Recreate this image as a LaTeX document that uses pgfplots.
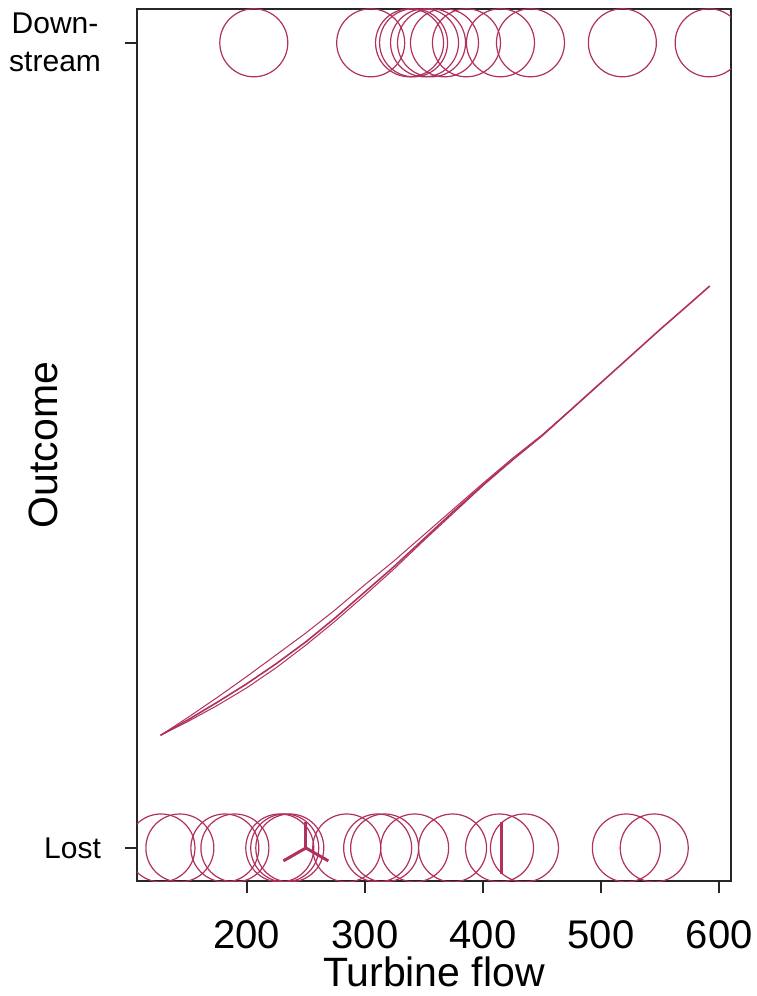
\documentclass[border=0pt]{standalone}
\usepackage{pgfplots}
\pgfplotsset{compat=1.18}
\usepackage{fontspec}
\setmainfont{Liberation Sans}
\definecolor{maroonR}{HTML}{B03060}
\begin{document}
\begin{tikzpicture}
\begin{axis}[
  scale only axis, width=297pt, height=436pt,
  xmin=107, xmax=610, ymin=-0.041, ymax=1.042,
  xtick={200,300,400,500,600},
  ytick={0,1}, yticklabels={Lost,{Down-\\stream}},
  tick pos=left, tick align=outside, major tick length=6pt,
  axis line style={line width=0.75pt, black!85},
  every tick/.style={black!85, line width=0.75pt},
  /pgf/number format/assume math mode=true,
  xticklabel style={font=\fontsize{20}{24}\selectfont, inner sep=0pt, yshift=-13.5pt},
  yticklabel style={font=\fontsize{15}{19}\selectfont, align=center, xshift=-8.5pt},
  xlabel={Turbine flow}, ylabel={Outcome},
  every axis x label/.style={at={(rel axis cs:0.5,0)}, yshift=-45.5pt, anchor=center, inner sep=0pt, font=\fontsize{20.5}{24}\selectfont},
  every axis y label/.style={at={(rel axis cs:0,0.5)}, xshift=-47pt, anchor=center, rotate=90, font=\fontsize{20.5}{24}\selectfont},
  clip marker paths=true,
]
\coordinate (SW) at (rel axis cs:0,0);
\coordinate (NE) at (rel axis cs:1,1);
% Downstream observations
\addplot[only marks, mark=o, mark size=17pt, mark options={draw=maroonR, line width=0.6pt}] coordinates {
(205.9,1)(304.9,1)(337.8,1)(341.2,1)(350.5,1)(356.4,1)(367.4,1)(386.0,1)(414.8,1)(440.2,1)(518.0,1)(591.5,1)};
% Lost observations
\addplot[only marks, mark=o, mark size=17pt, mark options={draw=maroonR, line width=0.6pt}] coordinates {
(127.3,0)(143.3,0)(181.4,0)(189.9,0)(227.9,0)(232.1,0)(236.4,0)(284.6,0)(310.8,0)(316.7,0)(342.1,0)(374.2,0)(414.0,0)(435.1,0)(521.4,0)(545.0,0)};
% sunflower petals
\addplot[maroonR, line width=1.5pt] coordinates {(250,0)(250,0.032)};
\addplot[maroonR, line width=1.5pt] coordinates {(250,0)(231,-0.016)};
\addplot[maroonR, line width=1.5pt] coordinates {(250,0)(269,-0.016)};
\addplot[maroonR, line width=1.5pt] coordinates {(415.6,-0.032)(415.6,0.032)};
% fitted strands
\addplot[maroonR, line width=0.8pt] coordinates {
(127,0.140)(150,0.159)(175,0.181)(200,0.204)(225,0.229)(250,0.256)(275,0.286)(300,0.318)(325,0.350)(350,0.384)(375,0.418)(400,0.451)(425,0.482)(450,0.512)(475,0.545)(500,0.578)(525,0.611)(550,0.644)(575,0.676)(592,0.698)};
\addplot[maroonR, line width=0.5pt] coordinates {
(127,0.140)(150,0.162)(175,0.187)(200,0.213)(225,0.240)(250,0.267)(275,0.296)(300,0.327)(325,0.357)(350,0.389)(375,0.421)(400,0.453)(425,0.484)(450,0.513)(475,0.545)(500,0.578)};
\addplot[maroonR, line width=0.5pt] coordinates {
(127,0.140)(150,0.157)(175,0.177)(200,0.199)(225,0.224)(250,0.252)(275,0.282)(300,0.314)(325,0.347)(350,0.382)(375,0.416)(400,0.450)(425,0.482)};
\end{axis}
\pgfresetboundingbox
\path ([shift={(-68.5pt,-57.5pt)}]SW) rectangle ([shift={(12.5pt,4.5pt)}]NE);
\end{tikzpicture}
\end{document}
